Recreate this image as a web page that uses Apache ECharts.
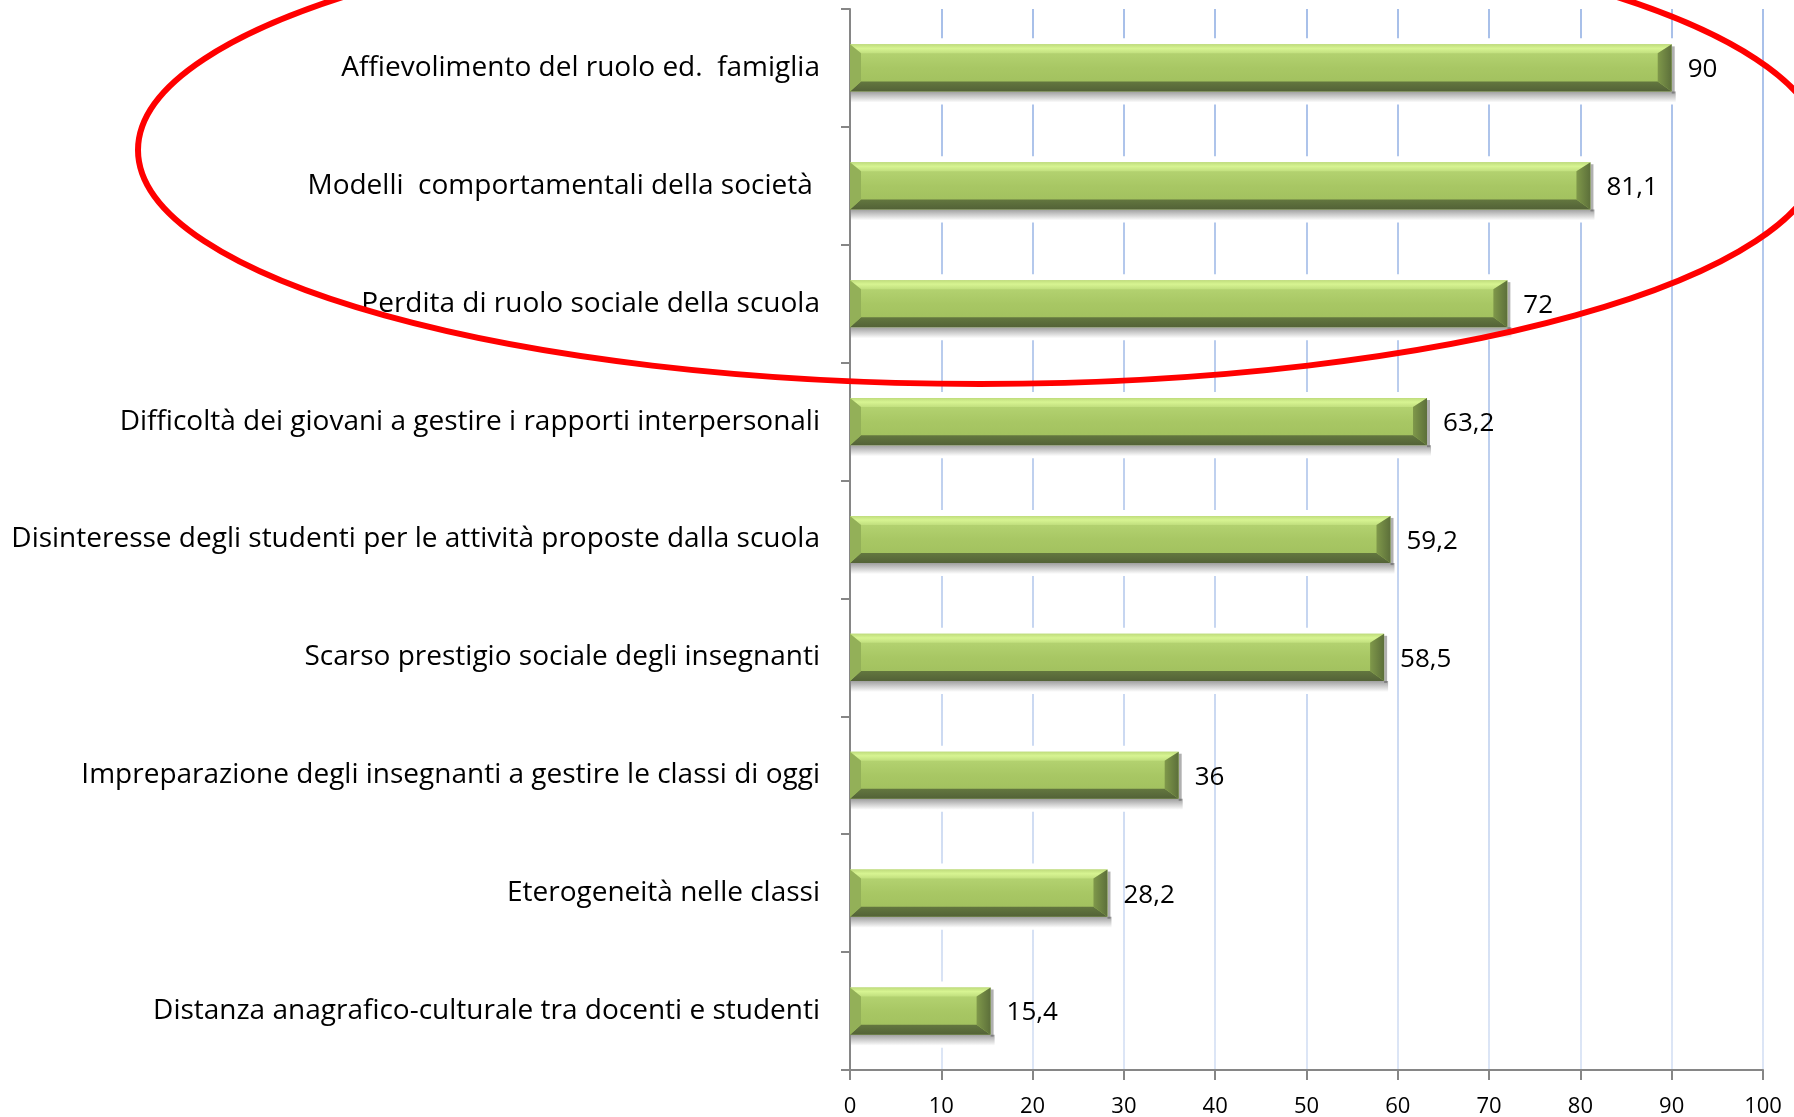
<!DOCTYPE html>
<html>
<head>
<meta charset="utf-8">
<script src="https://cdn.jsdelivr.net/npm/echarts@6/dist/echarts.min.js"></script>
<style>
  html, body { margin: 0; padding: 0; background: #fff; }
  #main { width: 1794px; height: 1117px; }
</style>
</head>
<body>
<div id="main"></div>
<script>
var categories = [
    'Affievolimento del ruolo ed.  famiglia',
    'Modelli  comportamentali della società ',
    'Perdita di ruolo sociale della scuola',
    'Difficoltà dei giovani a gestire i rapporti interpersonali',
    'Disinteresse degli studenti per le attività proposte dalla scuola',
    'Scarso prestigio sociale degli insegnanti',
    'Impreparazione degli insegnanti a gestire le classi di oggi',
    'Eterogeneità nelle classi',
    'Distanza anagrafico-culturale tra docenti e studenti'
];
var values = [90, 81.1, 72, 63.2, 59.2, 58.5, 36, 28.2, 15.4];
var xTicks = [0, 100, 10];   // min, max, interval

var FONT = 'Open Sans';
var myChart = echarts.init(document.getElementById('main'));

var barData = [];
for (var i = 0; i < values.length; i++) {
    barData.push([values[i], i]);
}

function fmt(v) {
    return String(v).replace('.', ',');
}

// bar with bevelled edges, like the office 3d style
function renderBar(params, api) {
    var v = api.value(0);
    var c = api.value(1);
    var p0 = api.coord([0, c]);
    var p1 = api.coord([v, c]);
    var h = api.size([0, 1])[1] * 0.4;
    var x0 = p0[0], x1 = p1[0];
    var y0 = p0[1] - h / 2, y1 = p0[1] + h / 2;
    var bt = 9, bb = 10, bl = 11, br = 14;
    return {
        type: 'group',
        children: [
            // white halo that cuts the gridlines
            { type: 'rect', shape: { x: x0 + 1, y: y0 - 6, width: x1 - x0 + 3, height: h + 19 },
              style: { fill: '#fff' } },
            // soft shadow under the bar
            { type: 'rect', shape: { x: x0 + 1, y: y1, width: x1 - x0 + 3, height: 11 },
              style: { fill: new echarts.graphic.LinearGradient(0, 0, 0, 1, [
                  { offset: 0, color: 'rgba(80,80,80,0.55)' },
                  { offset: 1, color: 'rgba(80,80,80,0)' }
              ]) } },
            { type: 'rect', shape: { x: x1, y: y0 + 2, width: 3, height: h },
              style: { fill: 'rgba(80,80,80,0.45)' } },
            // face
            { type: 'rect', shape: { x: x0, y: y0, width: x1 - x0, height: h },
              style: { fill: new echarts.graphic.LinearGradient(0, 0, 0, 1, [
                  { offset: 0, color: '#b9d877' },
                  { offset: 0.5, color: '#a8c764' },
                  { offset: 1, color: '#9fbe5c' }
              ]) } },
            // top bevel
            { type: 'polygon', shape: { points: [[x0, y0], [x1, y0], [x1 - br, y0 + bt], [x0 + bl, y0 + bt]] },
              style: { fill: new echarts.graphic.LinearGradient(0, 0, 0, 1, [
                  { offset: 0, color: '#bfdc7c' },
                  { offset: 0.45, color: '#d7f492' },
                  { offset: 1, color: '#c1df7e' }
              ]) } },
            // bottom bevel
            { type: 'polygon', shape: { points: [[x0, y1], [x1, y1], [x1 - br, y1 - bb], [x0 + bl, y1 - bb]] },
              style: { fill: new echarts.graphic.LinearGradient(0, 0, 0, 1, [
                  { offset: 0, color: '#63773f' },
                  { offset: 1, color: '#536237' }
              ]) } },
            // left bevel
            { type: 'polygon', shape: { points: [[x0, y0], [x0 + bl, y0 + bt], [x0 + bl, y1 - bb], [x0, y1]] },
              style: { fill: '#93b058' } },
            // right bevel
            { type: 'polygon', shape: { points: [[x1, y0], [x1 - br, y0 + bt], [x1 - br, y1 - bb], [x1, y1]] },
              style: { fill: new echarts.graphic.LinearGradient(0, 0, 1, 0, [
                  { offset: 0, color: '#7f984a' },
                  { offset: 1, color: '#5c6f3a' }
              ]) } },
            // value label
            { type: 'text', style: { text: fmt(v), x: x1 + 16, y: p0[1] + 2, verticalAlign: 'middle',
              align: 'left', fontSize: 26, fontFamily: FONT, fill: '#000' } }
        ]
    };
}

var option = {
    backgroundColor: '#fff',
    animation: false,
    grid: {
        left: 850,
        right: 31,
        top: 9,
        bottom: 47,
        outerBoundsMode: 'none'
    },
    xAxis: {
        type: 'value',
        min: xTicks[0],
        max: xTicks[1],
        interval: xTicks[2],
        axisLine: { show: true, lineStyle: { color: '#868686', width: 2 } },
        axisTick: { show: true, length: 10, lineStyle: { color: '#868686', width: 2 } },
        axisLabel: { color: '#000', fontSize: 22, fontFamily: FONT, margin: 26 },
        splitLine: {
            show: true,
            lineStyle: {
                width: 2,
                color: {
                    type: 'linear', x: 0, y: 0, x2: 0, y2: 1070, global: true,
                    colorStops: [
                        { offset: 0, color: '#a7bfe9' },
                        { offset: 1, color: '#dde6f6' }
                    ]
                }
            }
        }
    },
    yAxis: {
        type: 'category',
        inverse: true,
        data: categories,
        axisLine: { show: true, lineStyle: { color: '#868686', width: 2 } },
        axisTick: { show: true, length: 9, lineStyle: { color: '#868686', width: 2 } },
        axisLabel: { color: '#000', fontSize: 28, fontFamily: FONT, margin: 30, padding: [3, 0, 0, 0] },
        splitLine: { show: false }
    },
    series: [
        {
            type: 'custom',
            renderItem: renderBar,
            encode: { x: 0, y: 1 },
            data: barData,
            z: 3
        }
    ],
    graphic: [
        {
            type: 'ellipse',
            shape: { cx: 980, cy: 150, rx: 842, ry: 234 },
            style: { fill: 'none', stroke: '#ff0000', lineWidth: 6 },
            z: 100
        }
    ]
};
myChart.setOption(option);
</script>
</body>
</html>
